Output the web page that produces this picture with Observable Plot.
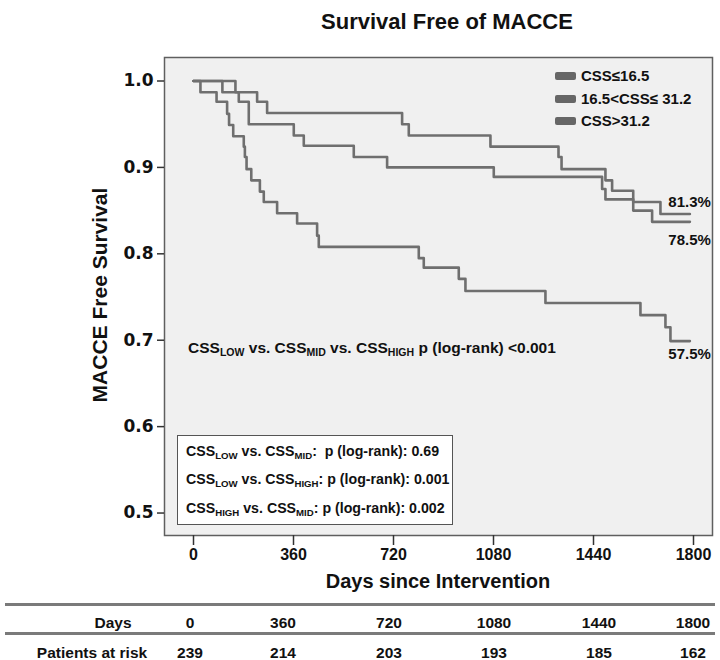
<!DOCTYPE html>
<html>
<head>
<meta charset="utf-8">
<script src="https://cdn.jsdelivr.net/npm/d3@7"></script>
<script src="https://cdn.jsdelivr.net/npm/@observablehq/plot@0.6"></script>
<style>
  body { margin: 0; background: #fff; font-family: "Liberation Sans", Arial, sans-serif; font-weight: bold; color: #111; }
  #page { position: relative; width: 720px; height: 660px; overflow: hidden; }
  .abs { position: absolute; white-space: nowrap; }
  sub { font-size: 0.68em; vertical-align: -0.3em; line-height: 0; }
  #title { left: 447px; top: 10px; transform: translateX(-50%); font-size: 22px; line-height: 24px; }
  #xlabel { left: 438px; top: 570px; transform: translateX(-50%); font-size: 20px; line-height: 22px; }
  #ylabel { left: 100px; top: 295px; transform: translate(-50%, -50%) rotate(-90deg); font-size: 21px; line-height: 22px; }
  .leg { font-size: 15px; line-height: 16px; }
  .leg i { position: absolute; left: -26px; top: 4px; width: 21px; height: 8px; background: #666; border-radius: 2px; }
  #overall { left: 188px; top: 339px; font-size: 15.5px; line-height: 17px; }
  #pairs { left: 177px; top: 435px; width: 274px; height: 88px; border: 1px solid #555; background: #fff; }
  #pairs div { position: absolute; left: 8px; font-size: 14.2px; line-height: 16px; white-space: nowrap; }
  .rule { position: absolute; left: 5px; width: 710px; height: 3px; background: #7a7a7a; }
  .cell { position: absolute; font-family: "Liberation Sans Narrow", "Arial Narrow", "Liberation Sans", sans-serif; font-size: 15.5px; line-height: 18px; transform: translateX(-50%); white-space: nowrap; }
</style>
</head>
<body>
<div id="page">
  <div id="title" class="abs">Survival Free of MACCE</div>
  <div id="chart" class="abs" style="left:0;top:40px"></div>
  <div id="ylabel" class="abs">MACCE Free Survival</div>
  <div id="xlabel" class="abs">Days since Intervention</div>
  <div id="legend"></div>
  <div id="overall" class="abs">CSS<sub>LOW</sub> vs. CSS<sub>MID</sub> vs. CSS<sub>HIGH</sub> p (log-rank) &lt;0.001</div>
  <div id="pairs" class="abs">
    <div style="top:7px">CSS<sub>LOW</sub> vs. CSS<sub>MID</sub>:&nbsp; p (log-rank): 0.69</div>
    <div style="top:35px">CSS<sub>LOW</sub> vs. CSS<sub>HIGH</sub>: p (log-rank): 0.001</div>
    <div style="top:64px">CSS<sub>HIGH</sub> vs. CSS<sub>MID</sub>: p (log-rank): 0.002</div>
  </div>
  <div id="table"></div>
</div>
<script>
// Axis ticks
const xTicks = [0, 360, 720, 1080, 1440, 1800];
const yTicks = [0.5, 0.6, 0.7, 0.8, 0.9, 1.0];

// CSS groups (legend order)
const groups = ["CSS\u226416.5", "16.5<CSS\u2264 31.2", "CSS>31.2"];

// Kaplan-Meier steps: day of each event and survival right after it
const daysLow  = [151, 229, 265, 751, 775, 1069, 1314, 1325, 1483, 1507, 1583, 1681];
const survLow  = [0.987, 0.976, 0.963, 0.950, 0.937, 0.924, 0.912, 0.898, 0.885, 0.873, 0.860, 0.846];

const daysMid  = [104, 163, 199, 361, 397, 577, 697, 1081, 1471, 1483, 1583, 1651];
const survMid  = [0.987, 0.976, 0.950, 0.937, 0.925, 0.912, 0.900, 0.889, 0.875, 0.863, 0.850, 0.837];

const daysHigh = [25, 83, 121, 128, 143, 181, 185, 191, 208, 239, 253, 301, 373, 445, 451, 811, 829, 955, 979, 1267, 1609, 1699, 1717];
const survHigh = [0.987, 0.976, 0.962, 0.949, 0.936, 0.924, 0.912, 0.898, 0.885, 0.872, 0.860, 0.847, 0.835, 0.821, 0.808, 0.795, 0.784, 0.771, 0.757, 0.743, 0.729, 0.715, 0.699];

// Last day of follow-up drawn for every curve
const followUpEnd = 1787;

// Five-year estimates printed at the curve ends
const endLabels = ["81.3%", "78.5%", "57.5%"];

// Number-at-risk table
const riskDays = [0, 360, 720, 1080, 1440, 1800];
const atRisk = [239, 214, 203, 193, 185, 162];

const curveSteps = [[daysLow, survLow], [daysMid, survMid], [daysHigh, survHigh]];

const series = curveSteps.flatMap(([days, surv], g) => {
  const pts = [{group: groups[g], day: 0, surv: 1}];
  days.forEach((d, i) => pts.push({group: groups[g], day: d, surv: surv[i]}));
  pts.push({group: groups[g], day: followUpEnd, surv: surv[surv.length - 1]});
  return pts;
});

const labelOffsets = [-12, 18, 13];
const ends = curveSteps.map(([days, surv], g) => ({
  day: followUpEnd, surv: surv[surv.length - 1], text: endLabels[g], dy: labelOffsets[g]
}));

const chart = Plot.plot({
  width: 720,
  height: 555,
  marginLeft: 164,
  marginRight: 8,
  marginTop: 17,
  marginBottom: 60,
  style: {fontFamily: "'Liberation Sans', Arial, sans-serif", fontWeight: "bold", color: "#111", background: "transparent"},
  x: {domain: [-104.4, 1868.4]},
  y: {domain: [0.474, 1.0272]},
  marks: [
    Plot.frame({fill: "#f0f0f0", stroke: "#5f5f5f", strokeWidth: 1.5}),
    Plot.axisY({ticks: yTicks, tickFormat: d3.format(".1f"), tickSize: 7, tickPadding: 4, fontSize: 17,
      fontFamily: "'DejaVu Sans', sans-serif", fontWeight: "bold", stroke: "#333", strokeWidth: 1.5, label: null}),
    Plot.axisX({ticks: xTicks, tickFormat: d3.format("d"), tickSize: 10, tickPadding: 3, fontSize: 16,
      fontWeight: "bold", stroke: "#333", strokeWidth: 1.5, label: null}),
    Plot.line(series, {x: "day", y: "surv", z: "group", curve: "step-after", stroke: "#6f6f6f", strokeWidth: 2.6}),
    ...ends.map(e => Plot.text([e], {x: "day", y: "surv", text: "text", textAnchor: "end", dx: 21, dy: e.dy,
      fontSize: 15, fontWeight: "bold", fill: "#111"}))
  ]
});
document.getElementById("chart").append(chart);

// Legend inside the plot frame
const legend = document.getElementById("legend");
const legendTops = [68, 90.5, 113];
groups.forEach((g, i) => {
  const item = document.createElement("div");
  item.className = "abs leg";
  item.style.left = "581px";
  item.style.top = legendTops[i] + "px";
  item.innerHTML = "<i></i>";
  item.append(document.createTextNode(g));
  legend.append(item);
});

// Number-at-risk table below the chart
const table = document.getElementById("table");
const colX = [190, 283, 389, 494, 599, 693];
function addRule(top) {
  const r = document.createElement("div");
  r.className = "rule";
  r.style.top = top + "px";
  table.append(r);
}
function addCell(text, x, top) {
  const c = document.createElement("div");
  c.className = "cell";
  c.style.left = x + "px";
  c.style.top = top + "px";
  c.textContent = text;
  table.append(c);
}
addRule(603);
addRule(632);
addCell("Days", 113, 614);
addCell("Patients at risk", 92, 644);
riskDays.forEach((d, i) => addCell(String(d), colX[i], 614));
atRisk.forEach((n, i) => addCell(String(n), colX[i], 644));
</script>
</body>
</html>
